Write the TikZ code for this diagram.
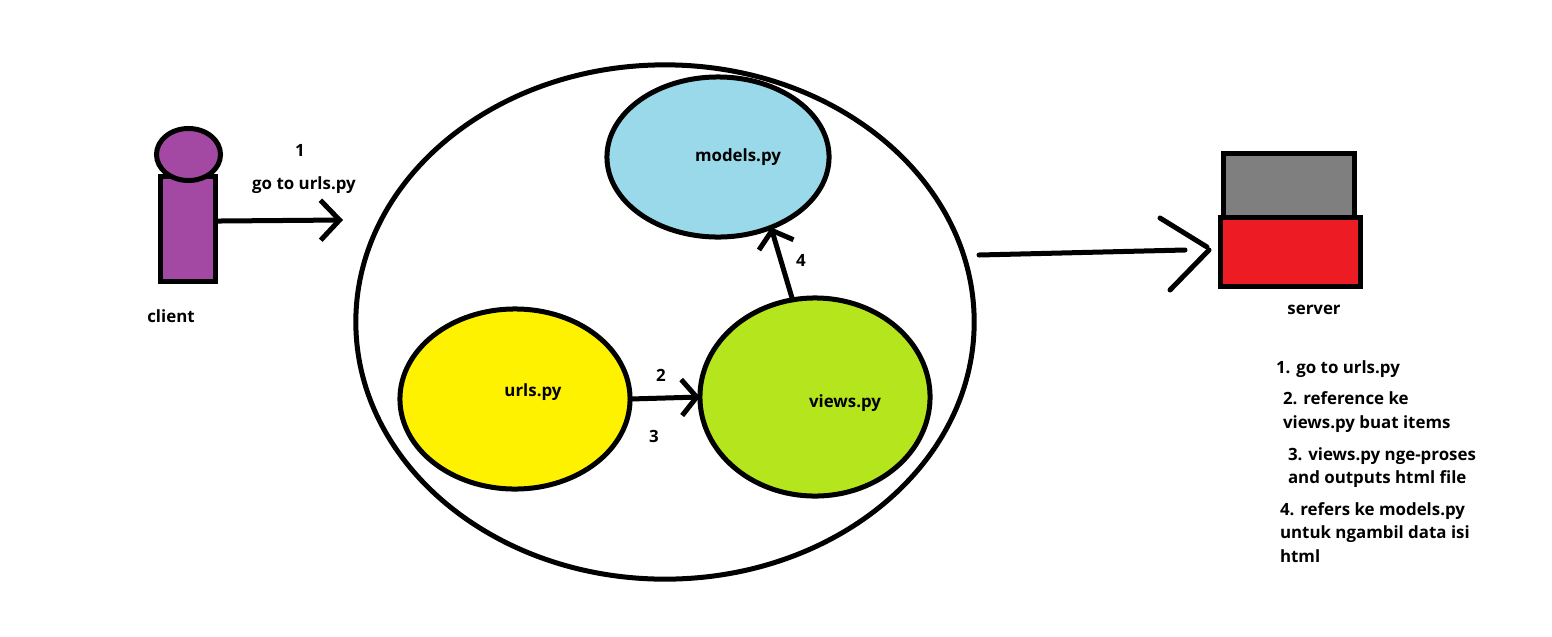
\documentclass[tikz,border=0pt]{standalone}
\usepackage{fontspec}
\setmainfont{Open Sans}
\usetikzlibrary{arrows.meta}
\usetikzlibrary{shapes.geometric}
\definecolor{pclient}{HTML}{A349A4}
\definecolor{pmodels}{HTML}{99D9EA}
\definecolor{purls}{HTML}{FFF200}
\definecolor{pviews}{HTML}{B5E61D}
\definecolor{pserver}{HTML}{ED1C24}
\definecolor{pcase}{HTML}{7F7F7F}
\tikzset{
	blob/.style={ellipse, draw=black, line width=0.05cm, inner sep=0pt, outer sep=0pt},
	box/.style={rectangle, draw=black, line width=0.05cm, inner sep=0pt, outer sep=0pt},
	lbl/.style={inner sep=0pt, outer sep=0pt, font=\fontsize{4.8}{6}\selectfont\bfseries},
	flow/.style={line width=0.05cm, line cap=round, -{Straight Barb[length=0.19cm,width=0.4cm,line width=0.05cm]}},
	smallflow/.style={line width=0.05cm, line cap=round, -{Straight Barb[length=0.15cm,width=0.36cm,line width=0.05cm]}},
	barb/.style={line width=0.05cm, line cap=round}
}

\begin{document}
\begin{tikzpicture}[x=0.01cm, y=-0.01cm]

		\useasboundingbox (0,0) rectangle (1552,636);

		% Client
		\node[box, fill=pclient, minimum width=0.555cm, minimum height=1.05cm] (clientbody) at (188,229) {};
		\node[blob, fill=pclient, minimum width=0.64cm, minimum height=0.52cm] (clienthead) at (188.5,154.5) {};
		\node[lbl] (clientlbl) at (171,316) {client};

		% Big circle
		\node[blob, minimum width=6.18cm, minimum height=5.14cm] (outer) at (665,322) {};

		% Modules
		\node[blob, fill=pmodels, minimum width=2.22cm, minimum height=1.6cm] (models) at (718,157) {};
		\node[blob, fill=purls, minimum width=2.3cm, minimum height=1.8cm] (urls) at (515,399) {};
		\node[blob, fill=pviews, minimum width=2.3cm, minimum height=1.98cm] (views) at (815,397) {};
		\node[lbl] (modelslbl) at (738,157) {models.py};
		\node[lbl] (urlslbl) at (533,392) {urls.py};
		\node[lbl] (viewslbl) at (845,403) {views.py};

		% Server
		\node[box, fill=pcase, minimum width=1.31cm, minimum height=0.64cm] (servertop) at (1289,185.5) {};
		\node[box, fill=pserver, minimum width=1.4cm, minimum height=0.69cm] (serverbase) at (1290.5,252) {};
		\node[lbl] (serverlbl) at (1314,310) {server};

		% Client arrow
		\coordinate (clienttip) at (343,220);
		\draw[flow] (clientbody.16) -- (clienttip);
		\node[lbl] (onelbl) at (300,150) {1};
		\node[lbl] (golbl) at (304,185) {go to urls.py};

		% Inner arrows
		\draw[smallflow] (urls.-0.5) -- (views.180.5);
		\draw[smallflow] (views.103) -- (models.-53);
		\node[lbl] (twolbl) at (661,375) {2};
		\node[lbl] (threelbl) at (654,436) {3};
		\node[lbl] (fourlbl) at (801,260) {4};

		% Server arrow
		\coordinate (outerout) at (979,255);
		\coordinate (shaftend) at (1185,250);
		\coordinate (barbtop) at (1160,218);
		\coordinate (barbmid) at (1207,247);
		\coordinate (barblow) at (1170,290);
		\coordinate (barbmidb) at (1209,250);
		\draw[barb] (outerout) -- (shaftend);
		\draw[barb] (barbtop) -- (barbmid);
		\draw[barb] (barbmidb) -- (barblow);

		% Notes
		\node[lbl, anchor=west] (noteone) at (1276,369) {1. go to urls.py};
		\node[lbl, anchor=west] (notetwoa) at (1283,398) {2. reference ke};
		\node[lbl, anchor=west] (notetwob) at (1283,424) {views.py buat items};
		\node[lbl, anchor=west] (notethreea) at (1288,456) {3. views.py nge-proses};
		\node[lbl, anchor=west] (notethreeb) at (1288,479) {and outputs html file};
		\node[lbl, anchor=west] (notefoura) at (1280,511) {4. refers ke models.py};
		\node[lbl, anchor=west] (notefourb) at (1280,534) {untuk ngambil data isi};
		\node[lbl, anchor=west] (notefourc) at (1280,556) {html};

	\end{tikzpicture}
\end{document}
